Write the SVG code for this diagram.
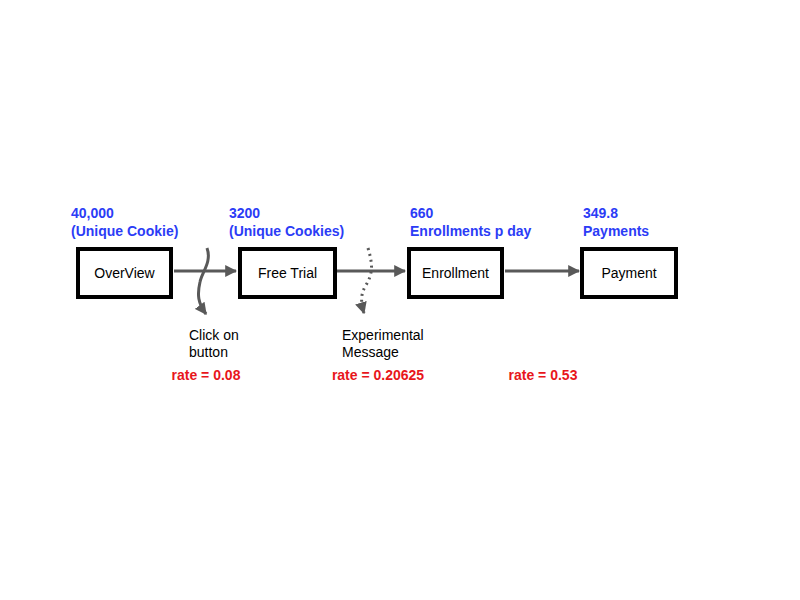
<svg xmlns="http://www.w3.org/2000/svg" width="800" height="600" viewBox="0 0 800 600">
<defs>
<style>
.box{fill:#fff;stroke:#000;stroke-width:4}
.lbl{font-family:"Helvetica","Liberation Sans",Arial,sans-serif;font-size:14px;fill:#000}
.cnt{font-family:"Helvetica","Liberation Sans",Arial,sans-serif;font-size:14px;font-weight:bold;fill:#2b3cf6}
.rate{font-family:"Helvetica","Liberation Sans",Arial,sans-serif;font-size:14px;font-weight:bold;fill:#e8161b}
.edge{fill:none;stroke:#595959;stroke-width:3}
</style>
<marker id="ah" viewBox="0 0 10 10" refX="9" refY="5" markerWidth="4" markerHeight="4" orient="auto" markerUnits="strokeWidth">
<path d="M0,0 L10,5 L0,10 z" fill="#595959"/>
</marker>
</defs>
<rect width="800" height="600" fill="#fff"/>
<g id="connectors">
<path class="edge" d="M174,271 L236,271" marker-end="url(#ah)"/>
<path class="edge" d="M337,271 L405,271" marker-end="url(#ah)"/>
<path class="edge" d="M505,271 L579,271" marker-end="url(#ah)"/>
<path class="edge" d="M207,248 C212,262 202,272 200,282 C197,295 198,303 206,314" marker-end="url(#ah)"/>
<path class="edge" style="stroke-dasharray:2 4" d="M368,248 C372,262 374,272 366,285 C360,295 361,303 364,313" marker-end="url(#ah)"/>
</g>
<g id="overview">
<rect class="box" x="78" y="249" width="93" height="48"/>
<text class="lbl" x="124.5" y="278" text-anchor="middle">OverView</text>
<text class="cnt" x="71" y="218">40,000</text>
<text class="cnt" x="71" y="236">(Unique Cookie)</text>
</g>
<g id="freetrial">
<rect class="box" x="240" y="249" width="95" height="48"/>
<text class="lbl" x="287.5" y="278" text-anchor="middle">Free Trial</text>
<text class="cnt" x="229" y="218">3200</text>
<text class="cnt" x="229" y="236">(Unique Cookies)</text>
</g>
<g id="enrollment">
<rect class="box" x="409" y="249" width="93" height="48"/>
<text class="lbl" x="455.5" y="278" text-anchor="middle">Enrollment</text>
<text class="cnt" x="410" y="218">660</text>
<text class="cnt" x="410" y="236">Enrollments p day</text>
</g>
<g id="payment">
<rect class="box" x="582" y="249" width="94" height="48"/>
<text class="lbl" x="629" y="278" text-anchor="middle">Payment</text>
<text class="cnt" x="583" y="218">349.8</text>
<text class="cnt" x="583" y="236">Payments</text>
</g>
<g id="annotations">
<text class="lbl" x="189" y="340">Click on</text>
<text class="lbl" x="189" y="357">button</text>
<text class="rate" x="206" y="380" text-anchor="middle">rate = 0.08</text>
<text class="lbl" x="342" y="340">Experimental</text>
<text class="lbl" x="342" y="357">Message</text>
<text class="rate" x="378" y="380" text-anchor="middle">rate = 0.20625</text>
<text class="rate" x="543" y="380" text-anchor="middle">rate = 0.53</text>
</g>
</svg>
